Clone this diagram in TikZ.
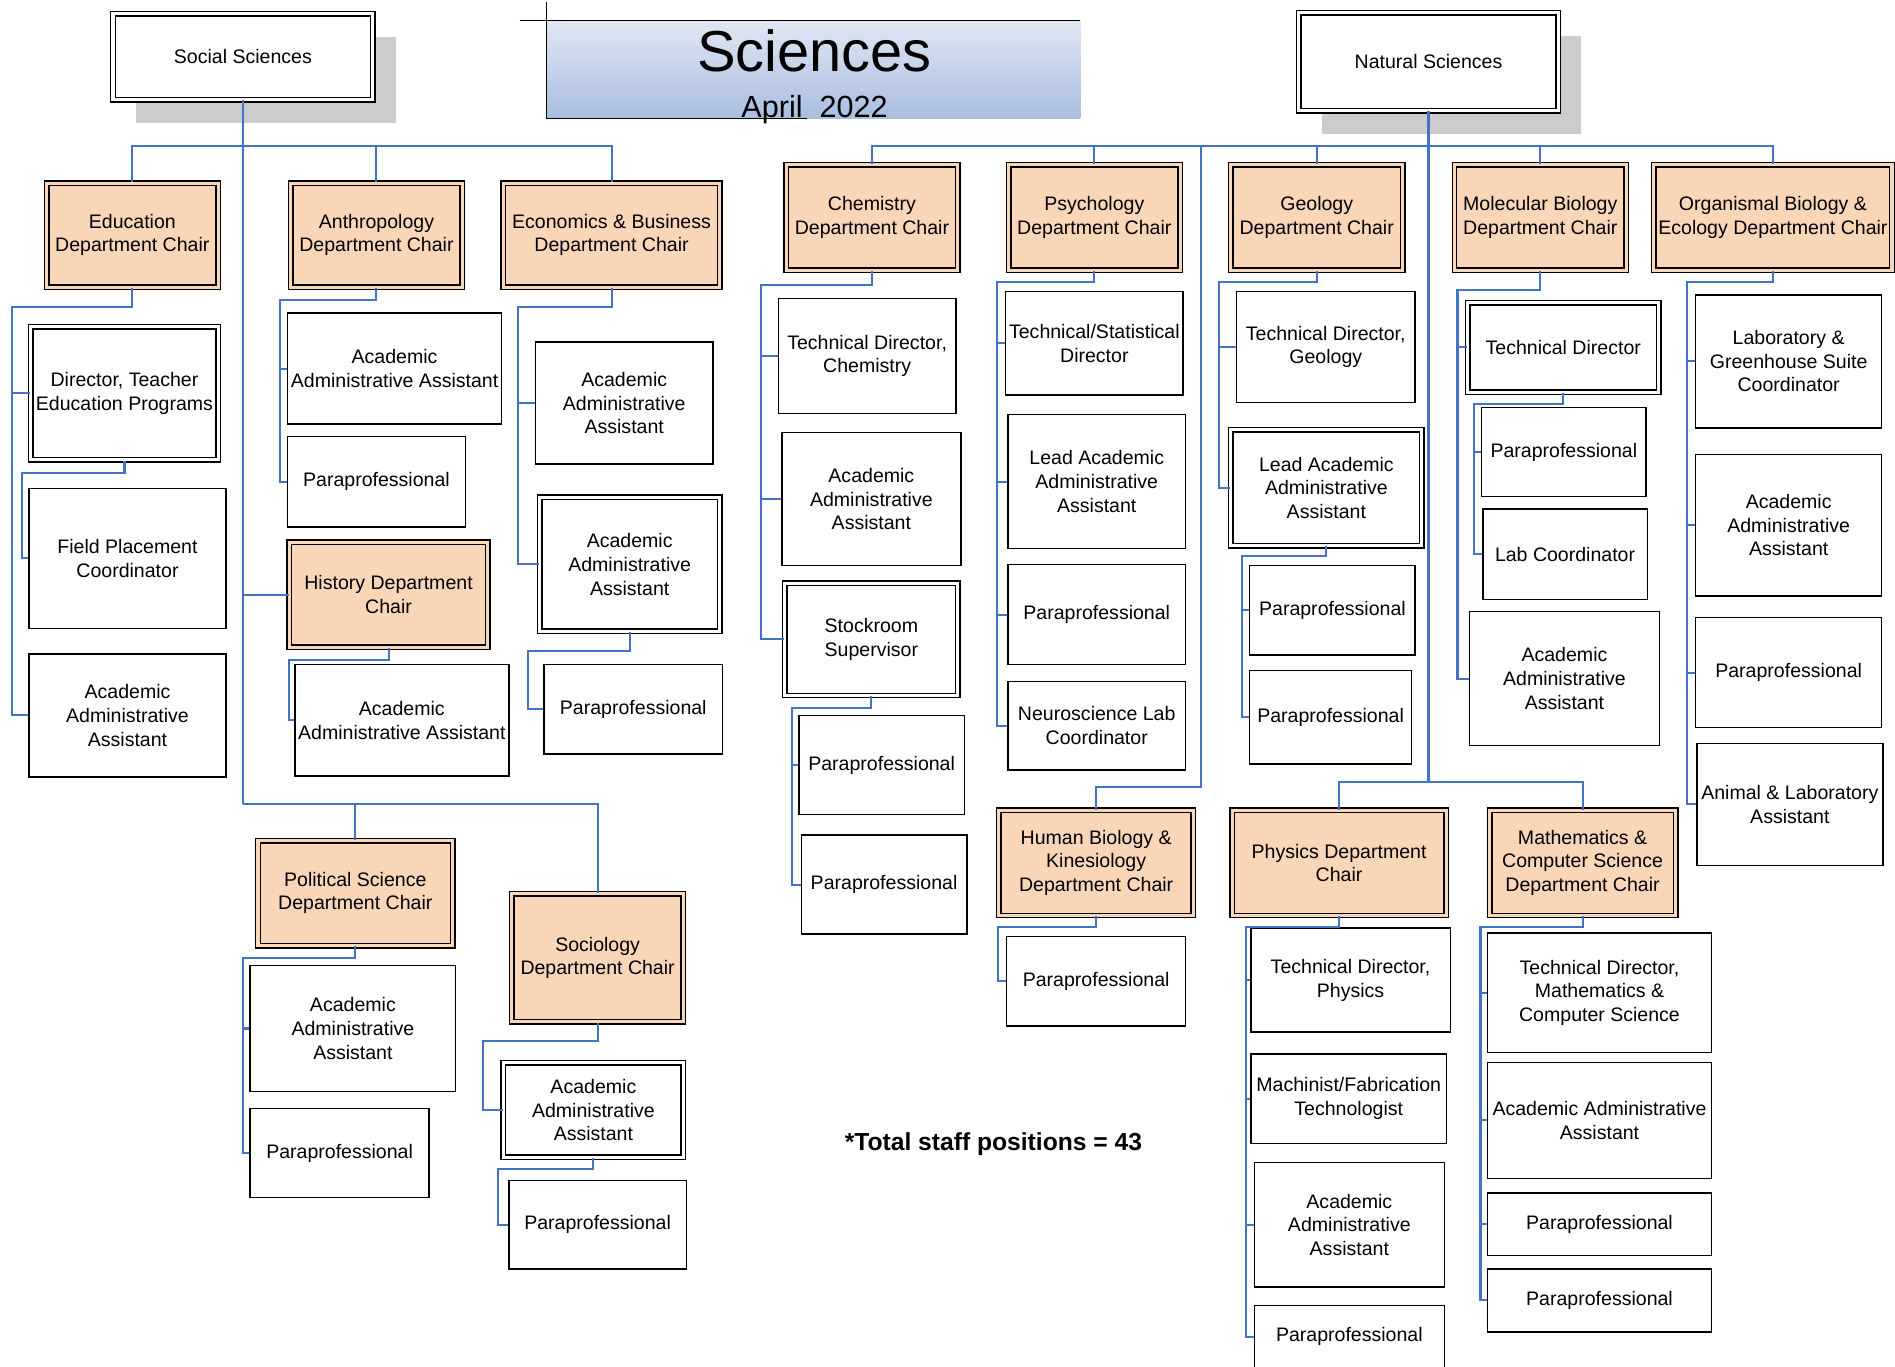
\documentclass[tikz,border=0pt]{standalone}
\usepackage{fontspec}
\setmainfont{Liberation Sans}
\usetikzlibrary{shadows}
\definecolor{peach}{HTML}{F9D6B8}
\definecolor{linkblue}{HTML}{4472C4}
\definecolor{shadowgray}{HTML}{CCCCCC}
\definecolor{titletop}{HTML}{E0E7F3}
\definecolor{titlebot}{HTML}{A8BEE0}
\begin{document}
\begin{tikzpicture}[
    x=0.025cm, y=-0.025cm,
    every node/.style={font=\fontsize{11.5}{13.9}\selectfont, align=center, inner sep=0pt},
    sz/.style 2 args={minimum width=#1*0.025cm, minimum height=#2*0.025cm},
    dsz/.style 2 args={minimum width=(#1-5)*0.025cm, minimum height=(#2-5)*0.025cm},
    staff/.style={rectangle, draw, line width=0.85pt, fill=white},
    dstaff/.style={rectangle, draw, line width=0.85pt, fill=white, double=white, double distance=1.8pt},
    chair/.style={rectangle, draw, line width=0.85pt, fill=peach, double=peach, double distance=1.8pt},
    division/.style={dstaff, drop shadow={shadow xshift=0.475cm, shadow yshift=-0.475cm, fill=shadowgray, opacity=1}},
    link/.style={draw=linkblue, line width=1.2pt}
]
\useasboundingbox (0,0) rectangle (1568,1131);

\shade[top color=titletop, bottom color=titlebot] (452,17) rectangle (894,98);
\draw[line width=0.9pt] (430,17) -- (894,17);
\draw[line width=0.9pt] (452,2) -- (452,98) -- (668,98);
\node[font=\fontsize{34}{40}\selectfont, anchor=base] (title) at (674,59) {Sciences};
\node[font=\fontsize{18}{21}\selectfont, anchor=base] (date) at (674,97) {April\ \ 2022};

\node[division, dsz={220}{76}] (ss) at (201,47) {Social Sciences};
\node[division, dsz={220}{86}] (ns) at (1182,51) {Natural Sciences};

\node[chair, dsz={147}{91}] (edu) at (109.5,194.5) {Education\\Department Chair};
\node[chair, dsz={147}{91}] (anth) at (311.5,194.5) {Anthropology\\Department Chair};
\node[chair, dsz={184}{91}] (econ) at (506,194.5) {Economics \& Business\\Department Chair};
\node[dstaff, dsz={160}{115}] (dir) at (103,325.5) {Director, Teacher\\Education Programs};
\node[staff, sz={163}{116}] (fpc) at (105.5,462) {Field Placement\\Coordinator};
\node[staff, sz={163}{102}] (eduaaa) at (105.5,592) {Academic\\Administrative\\Assistant};
\node[staff, sz={177}{92}] (anthaaa) at (326.5,305) {Academic\\Administrative Assistant};
\node[staff, sz={147}{75}] (anthpara) at (311.5,398.5) {Paraprofessional};
\node[chair, dsz={169}{92}] (hist) at (321.5,492) {History Department\\Chair};
\node[staff, sz={177}{92}] (histaaa) at (332.5,596) {Academic\\Administrative Assistant};
\node[staff, sz={147}{101}] (econaaa) at (516.5,333.5) {Academic\\Administrative\\Assistant};
\node[dstaff, dsz={154}{116}] (econlead) at (521,467) {Academic\\Administrative\\Assistant};
\node[staff, sz={148}{74}] (econpara) at (524,587) {Paraprofessional};
\node[chair, dsz={166}{92}] (pol) at (294,739) {Political Science\\Department Chair};
\node[staff, sz={170}{104}] (polaaa) at (292,851) {Academic\\Administrative\\Assistant};
\node[staff, sz={148}{74}] (polpara) at (281,954) {Paraprofessional};
\node[chair, dsz={147}{111}] (soc) at (494.5,792.5) {Sociology\\Department Chair};
\node[dstaff, dsz={154}{83}] (socaaa) at (491,918.5) {Academic\\Administrative\\Assistant};
\node[staff, sz={147}{73}] (socpara) at (494.5,1013.5) {Paraprofessional};

\node[chair, dsz={147}{92}] (chem) at (721.5,180) {Chemistry\\Department Chair};
\node[chair, dsz={147}{92}] (psy) at (905.5,180) {Psychology\\Department Chair};
\node[chair, dsz={147}{92}] (geo) at (1089.5,180) {Geology\\Department Chair};
\node[chair, dsz={147}{92}] (mol) at (1274.5,180) {Molecular Biology\\Department Chair};
\node[chair, dsz={202}{92}] (org) at (1467,180) {Organismal Biology \&\\Ecology Department Chair};

\node[staff, sz={147}{95}] (chemtd) at (717.5,294.5) {Technical Director,\\Chemistry};
\node[staff, sz={148}{110}] (chemaaa) at (721,413) {Academic\\Administrative\\Assistant};
\node[dstaff, dsz={148}{98}] (stock) at (721,529) {Stockroom\\Supervisor};
\node[staff, sz={137}{82}] (chempara) at (729.5,633) {Paraprofessional};
\node[staff, sz={137}{82}] (chemparb) at (731.5,732) {Paraprofessional};

\node[staff, sz={147}{86}] (psytd) at (905.5,284) {Technical/Statistical\\Director};
\node[staff, sz={147}{111}] (psylead) at (907.5,398.5) {Lead Academic\\Administrative\\Assistant};
\node[staff, sz={147}{83}] (psypara) at (907.5,508.5) {Paraprofessional};
\node[staff, sz={147}{73}] (psyneuro) at (907.5,600.5) {Neuroscience Lab\\Coordinator};
\node[chair, dsz={166}{92}] (hbk) at (907,714) {Human Biology \&\\Kinesiology\\Department Chair};
\node[staff, sz={148}{74}] (hbkpara) at (907,812) {Paraprofessional};

\node[staff, sz={148}{92}] (geotd) at (1097,287) {Technical Director,\\Geology};
\node[dstaff, dsz={163}{101}] (geolead) at (1097.5,403.5) {Lead Academic\\Administrative\\Assistant};
\node[staff, sz={137}{74}] (geopara) at (1102.5,505) {Paraprofessional};
\node[staff, sz={134}{77}] (geoparb) at (1101,593.5) {Paraprofessional};

\node[dstaff, dsz={163}{79}] (moltd) at (1293.5,287.5) {Technical Director};
\node[staff, sz={136}{74}] (molpara) at (1294,374) {Paraprofessional};
\node[staff, sz={136}{75}] (mollab) at (1295,458.5) {Lab Coordinator};
\node[staff, sz={157}{111}] (molaaa) at (1294.5,561.5) {Academic\\Administrative\\Assistant};

\node[staff, sz={154}{110}] (orglab) at (1480,299) {Laboratory \&\\Greenhouse Suite\\Coordinator};
\node[staff, sz={154}{117}] (orgaaa) at (1480,434.5) {Academic\\Administrative\\Assistant};
\node[staff, sz={154}{91}] (orgpara) at (1480,556.5) {Paraprofessional};
\node[staff, sz={154}{101}] (organimal) at (1481,665.5) {Animal \& Laboratory\\Assistant};

\node[chair, dsz={182}{92}] (phy) at (1108,714) {Physics Department\\Chair};
\node[staff, sz={165}{86}] (phytd) at (1117.5,811) {Technical Director,\\Physics};
\node[staff, sz={162}{74}] (phymach) at (1116,909) {Machinist/Fabrication\\Technologist};
\node[staff, sz={157}{103}] (phyaaa) at (1116.5,1013.5) {Academic\\Administrative\\Assistant};
\node[staff, sz={157}{52}] (phypara) at (1116.5,1106) {Paraprofessional};

\node[chair, dsz={159}{92}] (math) at (1309.5,714) {Mathematics \&\\Computer Science\\Department Chair};
\node[staff, sz={185}{99}] (mathtd) at (1323.5,821.5) {Technical Director,\\Mathematics \&\\Computer Science};
\node[staff, sz={185}{96}] (mathaaa) at (1323.5,927) {Academic Administrative\\Assistant};
\node[staff, sz={185}{52}] (mathpara) at (1323.5,1013) {Paraprofessional};
\node[staff, sz={185}{52}] (mathparb) at (1323.5,1076) {Paraprofessional};

\node[font=\bfseries\fontsize{14.5}{17}\selectfont] (total) at (822,947) {*Total staff positions = 43};

\coordinate (ssbar) at (201,121);
\coordinate (ssmid) at (201,665);
\draw[link] (ss) -- (ssbar) -- (ssmid);
\draw[link] (ssbar) -| (edu);
\draw[link] (ssbar) -| (anth);
\draw[link] (ssbar) -| (econ);
\draw[link] (ssbar) |- (hist);
\draw[link] (ssmid) -| (pol);
\draw[link] (ssmid) -| (soc);

\coordinate (eduT) at (10,254);
\draw[link] (edu) |- (eduT) |- (dir);
\draw[link] (eduT) |- (eduaaa);
\coordinate (dirT) at (18,391);
\draw[link] (dir) |- (dirT) |- (fpc);
\coordinate (anthT) at (232,248);
\draw[link] (anth) |- (anthT) |- (anthaaa);
\draw[link] (anthT) |- (anthpara);
\coordinate (histT) at (239,546);
\draw[link] (hist) |- (histT) |- (histaaa);
\coordinate (econT) at (429,254);
\draw[link] (econ) |- (econT) |- (econaaa);
\draw[link] (econT) |- (econlead);
\coordinate (econleadT) at (437,539);
\draw[link] (econlead) |- (econleadT) |- (econpara);
\coordinate (polT) at (201,793);
\draw[link] (pol) |- (polT) |- (polaaa);
\draw[link] (polT) |- (polpara);
\coordinate (socT) at (400,861);
\draw[link] (soc) |- (socT) |- (socaaa);
\coordinate (socaaaT) at (412,967);
\draw[link] (socaaa) |- (socaaaT) |- (socpara);

\coordinate (nsbar) at (1182,121);
\coordinate (nsmid) at (1182,647);
\draw[link] (ns) -- (nsbar) -- (nsmid);
\draw[link] (nsbar) -| (chem);
\draw[link] (nsbar) -| (psy);
\draw[link] (nsbar) -| (geo);
\draw[link] (nsbar) -| (mol);
\draw[link] (nsbar) -| (org);
\coordinate (hbA) at (994,121);
\coordinate (hbB) at (994,651);
\draw[link] (hbA) -- (hbB) -| (hbk);
\draw[link] (nsmid) -| (phy);
\draw[link] (nsmid) -| (math);

\coordinate (chemT) at (630,236);
\draw[link] (chem) |- (chemT) |- (chemtd);
\draw[link] (chemT) |- (chemaaa);
\draw[link] (chemT) |- (stock);
\coordinate (stockT) at (655,586);
\draw[link] (stock) |- (stockT) |- (chempara);
\draw[link] (stockT) |- (chemparb);
\coordinate (psyT) at (825,233);
\draw[link] (psy) |- (psyT) |- (psytd);
\draw[link] (psyT) |- (psylead);
\draw[link] (psyT) |- (psypara);
\draw[link] (psyT) |- (psyneuro);
\coordinate (hbkT) at (826,767);
\draw[link] (hbk) |- (hbkT) |- (hbkpara);
\coordinate (geoT) at (1009,233);
\draw[link] (geo) |- (geoT) |- (geotd);
\draw[link] (geoT) |- (geolead);
\coordinate (geoleadT) at (1028,460);
\draw[link] (geolead) |- (geoleadT) |- (geopara);
\draw[link] (geoleadT) |- (geoparb);
\coordinate (molT) at (1206,240);
\draw[link] (mol) |- (molT) |- (moltd);
\draw[link] (molT) |- (molaaa);
\coordinate (moltdT) at (1220,334);
\draw[link] (moltd) |- (moltdT) |- (molpara);
\draw[link] (moltdT) |- (mollab);
\coordinate (orgT) at (1396,233);
\draw[link] (org) |- (orgT) |- (orglab);
\draw[link] (orgT) |- (orgaaa);
\draw[link] (orgT) |- (orgpara);
\draw[link] (orgT) |- (organimal);
\coordinate (phyT) at (1031,767);
\draw[link] (phy) |- (phyT) |- (phytd);
\draw[link] (phyT) |- (phymach);
\draw[link] (phyT) |- (phyaaa);
\draw[link] (phyT) |- (phypara);
\coordinate (mathT) at (1225,767);
\draw[link] (math) |- (mathT) |- (mathtd);
\draw[link] (mathT) |- (mathaaa);
\draw[link] (mathT) |- (mathpara);
\draw[link] (mathT) |- (mathparb);
\end{tikzpicture}
\end{document}
